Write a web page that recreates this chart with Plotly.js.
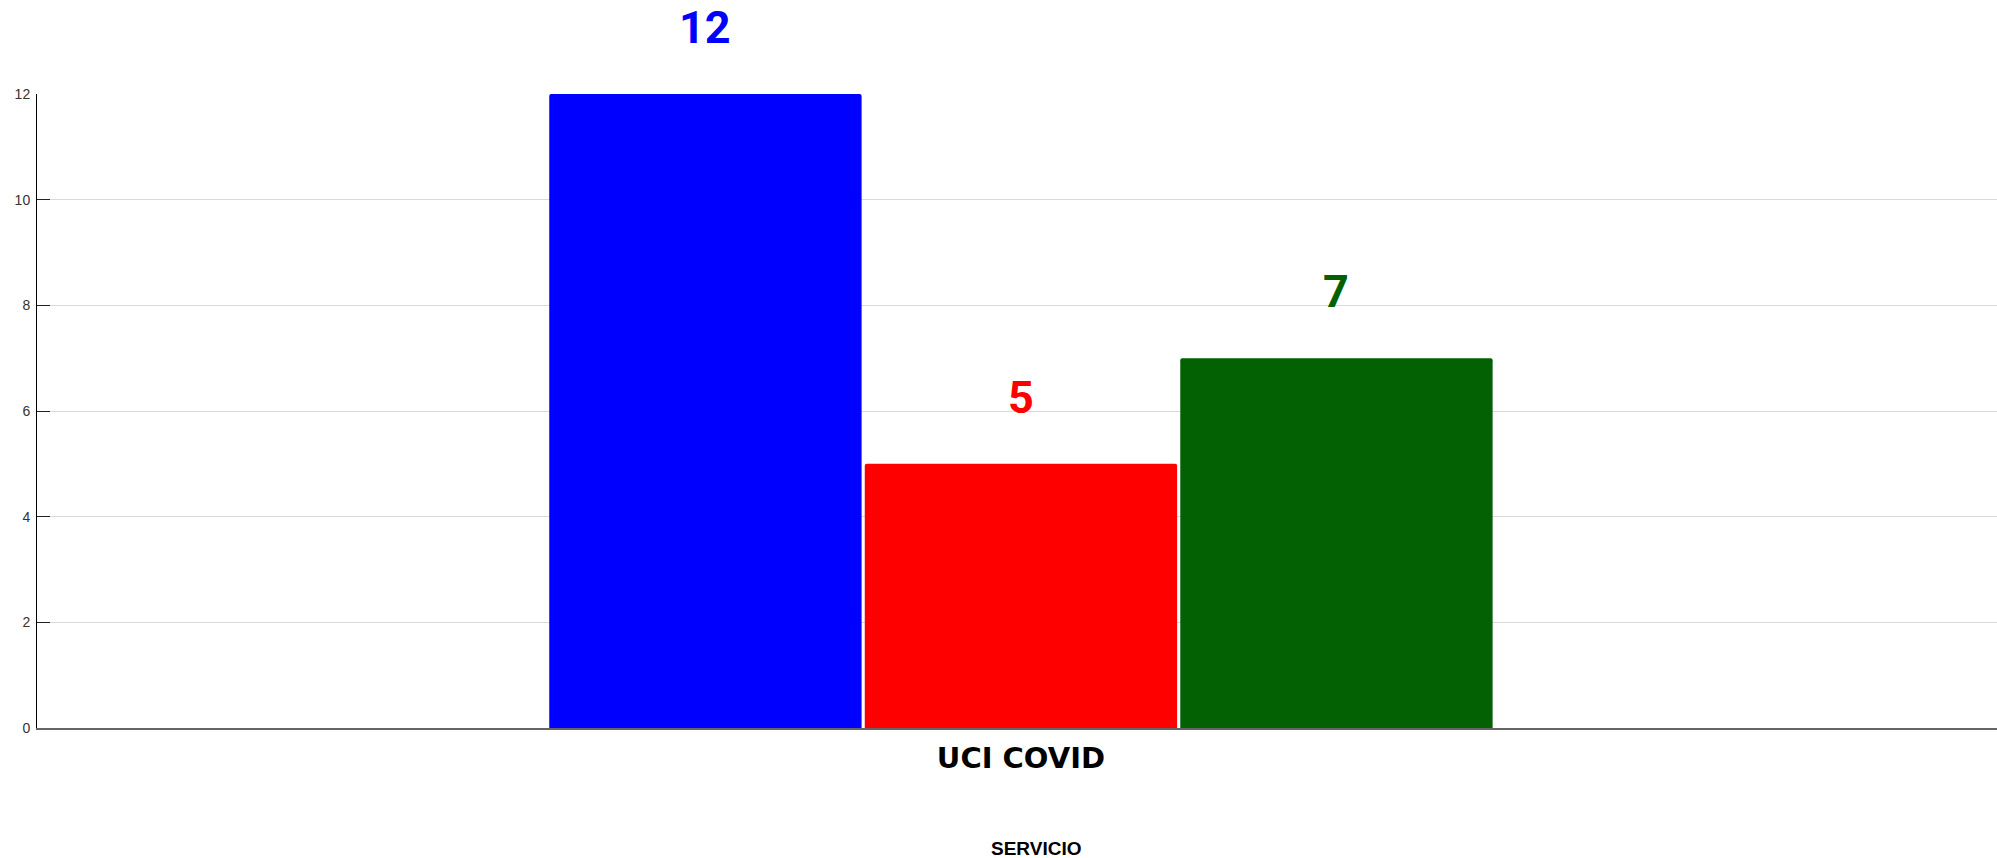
<!DOCTYPE html>
<html>
<head>
<meta charset="utf-8">
<script src="https://cdn.plot.ly/plotly-3.0.1.min.js"></script>
<style>html,body{margin:0;padding:0;background:#fff;}#chart{width:1997px;height:858px;}</style>
</head>
<body>
<div id="chart"></div>
<script>
const categories = ["UCI COVID"];
const seriesNames = ["Serie 1", "Serie 2", "Serie 3"];
const serie1 = [12];
const serie2 = [5];
const serie3 = [7];
const colors = ["#0000ff", "#ff0000", "#036103"];
const yTicks = [0, 2, 4, 6, 8, 10, 12];
const xTitle = "SERVICIO";

const allSeries = [serie1, serie2, serie3];
const bargap = 0.519;
const bargroupgap = 0.01;

const traces = allSeries.map((vals, k) => ({
  type: "bar",
  name: seriesNames[k],
  x: categories,
  y: vals,
  marker: { color: colors[k], cornerradius: 2, line: { width: 0 } },
  hoverinfo: "none"
}));

const n = allSeries.length;
const slot = (1 - bargap) / n;
const annotations = [];
allSeries.forEach((vals, k) => {
  vals.forEach((v, i) => {
    annotations.push({
      x: i + (k - (n - 1) / 2) * slot,
      y: v,
      xref: "x", yref: "y",
      text: String(v),
      showarrow: false,
      yanchor: "bottom",
      yshift: 38,
      font: { family: "Roboto, Arial, sans-serif", size: 45, color: colors[k], weight: "bold" }
    });
  });
});
annotations.push({
  xref: "paper", yref: "paper",
  x: 0.5097, y: 0,
  yanchor: "top", yshift: -108,
  text: "<b>" + xTitle + "</b>",
  showarrow: false,
  font: { family: "Liberation Sans, Arial, sans-serif", size: 19, color: "#000" }
});

const layout = {
  width: 1997, height: 858,
  margin: { l: 37, r: 0, t: 94, b: 130, pad: 0 },
  paper_bgcolor: "#fff", plot_bgcolor: "#fff",
  barmode: "group",
  bargap: bargap,
  bargroupgap: bargroupgap,
  showlegend: false,
  xaxis: {
    type: "category",
    range: [-0.5, 0.496],
    showline: true, linecolor: "#666", linewidth: 1.5,
    showgrid: false, zeroline: false,
    ticks: "",
    tickfont: { family: "DejaVu Sans, sans-serif", size: 29, color: "#000", weight: "bold" },
    ticklabelstandoff: 4
  },
  yaxis: {
    range: [0, 12],
    tickvals: yTicks,
    ticktext: yTicks.map(String),
    showline: true, linecolor: "#000", linewidth: 1,
    showgrid: true, gridcolor: "#d9d9d9", gridwidth: 1,
    zeroline: false,
    ticks: "inside", ticklen: 13, tickcolor: "#222", tickwidth: 1,
    ticklabelstandoff: 3,
    tickfont: { family: "Liberation Sans, Arial, sans-serif", size: 14, color: "#333" }
  },
  annotations: annotations
};

Plotly.newPlot("chart", traces, layout, { displayModeBar: false, staticPlot: true });
</script>
</body>
</html>
